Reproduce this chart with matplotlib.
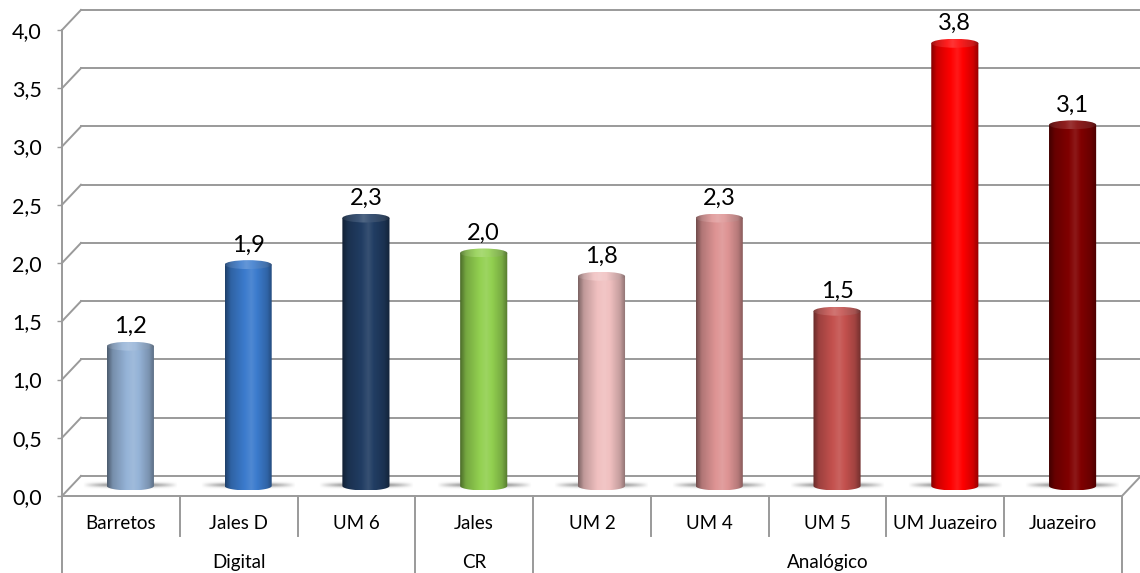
import numpy as np
import matplotlib
matplotlib.use('Agg')
import matplotlib.pyplot as plt
from matplotlib.path import Path
from matplotlib.patches import PathPatch, Ellipse
from matplotlib.colors import to_rgb

plt.rcParams['font.family'] = ['Lato', 'DejaVu Sans']

# Data
categories = ['Barretos', 'Jales D', 'UM 6', 'Jales', 'UM 2', 'UM 4', 'UM 5', 'UM Juazeiro', 'Juazeiro']
values = [1.2, 1.9, 2.3, 2.0, 1.8, 2.3, 1.5, 3.8, 3.1]
groups = ['Digital', 'CR', 'Analógico']
group_sizes = [3, 1, 5]
bar_colors = ['#95B3D7', '#3B7BCD', '#213D63', '#92D050', '#F0C0C0',
              '#DE9494', '#C4514E', '#FF0000', '#800000']
yticks = np.arange(0, 4.01, 0.5)

# 3D look: depth of the wall / floor in data units
DX = 0.161
DY = 0.172
BAR_W = 0.40
CAP_H = 0.077
GRID = '#9A9A9A'

fig = plt.figure(figsize=(11.4, 5.73), dpi=100)
ax = fig.add_axes([62 / 1140, 77 / 573, 1060 / 1140, 466 / 573])
for s in ax.spines.values():
    s.set_visible(False)


def shade(base, k):
    base = np.asarray(base)
    if k <= 1:
        return base * k
    return base + (1 - base) * (k - 1)


def gradient(color, light=0.0, n=80):
    base = to_rgb(color)
    base = np.array(base) + (1 - np.array(base)) * light
    t = np.linspace(0, 1, n)
    k = np.interp(t, [0, 0.12, 0.55, 0.88, 1], [0.52, 0.8, 1.10, 0.82, 0.58])
    return np.array([shade(base, kk) for kk in k])[np.newaxis, :, :]


def cylinder(xc, y0, h, color):
    xl, xr = xc - BAR_W / 2, xc + BAR_W / 2
    th = np.linspace(np.pi, 2 * np.pi, 60)
    bottom = np.column_stack([xc + BAR_W / 2 * np.cos(th), y0 + CAP_H / 2 * np.sin(th)])
    verts = [(xl, y0 + h)] + list(map(tuple, bottom)) + [(xr, y0 + h), (xl, y0 + h)]
    body = PathPatch(Path(verts), facecolor='none', edgecolor='none')
    ax.add_patch(body)
    im = ax.imshow(gradient(color), extent=(xl, xr, y0 - CAP_H / 2, y0 + h),
                   aspect='auto', interpolation='bilinear', zorder=3)
    im.set_clip_path(body)
    cap = Ellipse((xc, y0 + h), BAR_W, CAP_H, facecolor='none', edgecolor='none')
    ax.add_patch(cap)
    im2 = ax.imshow(gradient(color, light=0.12)[:, ::-1, :],
                    extent=(xl, xr, y0 + h - CAP_H / 2, y0 + h + CAP_H / 2),
                    aspect='auto', interpolation='bilinear', zorder=4)
    im2.set_clip_path(cap)


def floor_shadow(xc, y0):
    # soft grey shadow on the floor either side of a cylinder base
    nx, ny = 120, 20
    x = np.linspace(-1, 1, nx)
    y = np.linspace(-1, 1, ny)
    ax_prof = np.clip(1 - np.abs(x) ** 2.2, 0, 1)
    ay_prof = np.exp(-(y / 0.55) ** 2)
    alpha = 0.75 * np.outer(ay_prof, ax_prof)
    rgba = np.zeros((ny, nx, 4))
    rgba[..., :3] = 0.38
    rgba[..., 3] = alpha
    ax.imshow(rgba, extent=(xc - BAR_W / 2 - 0.2, xc + BAR_W / 2 + 0.2, y0 - 0.025, y0 + 0.04),
              aspect='auto', interpolation='bilinear', zorder=2)


n = len(categories)

# back wall gridlines and left diagonals
for yv in yticks:
    ax.plot([DX, n + DX], [yv + DY, yv + DY], color=GRID, lw=1.4, clip_on=False, zorder=1)
    ax.plot([0, DX], [yv, yv + DY], color=GRID, lw=1.4, clip_on=False, zorder=1)

# floor front edge and right side
ax.plot([0, n], [0, 0], color=GRID, lw=1.4, clip_on=False, zorder=1)
ax.plot([n, n + DX], [0, DY], color=GRID, lw=1.4, clip_on=False, zorder=1)

# value axis line, extends down as the first group divider
ax.plot([0, 0], [4.0, -0.68], color=GRID, lw=1.4, clip_on=False, zorder=1)

# category dividers and group dividers
bounds = np.cumsum([0] + group_sizes)
for i in range(1, n):
    if i in bounds:
        continue
    ax.plot([i, i], [0, -0.343], color=GRID, lw=1.4, clip_on=False, zorder=1)
for b in bounds[1:]:
    ax.plot([b, b], [0, -0.68], color=GRID, lw=1.4, clip_on=False, zorder=1)

# cylinders
for i, (v, c) in enumerate(zip(values, bar_colors)):
    xc = i + 0.5 + DX / 2
    floor_shadow(xc, DY / 2)
for i, (v, c) in enumerate(zip(values, bar_colors)):
    xc = i + 0.5 + DX / 2
    cylinder(xc, DY / 2, v, c)
    ax.annotate(f'{v:.1f}'.replace('.', ','), (xc, DY / 2 + v), xytext=(0, 14),
                textcoords='offset points', ha='center', va='center', fontsize=17,
                color='black', zorder=5)

# category and group labels
for i, cat in enumerate(categories):
    ax.text(i + 0.5, -0.232, cat, ha='center', va='center', fontsize=13.5, color='black')
for g, lo, hi in zip(groups, bounds[:-1], bounds[1:]):
    ax.text((lo + hi) / 2, -0.575, g, ha='center', va='center', fontsize=13.5, color='black')

ax.set_xlim(0, n)
ax.set_ylim(0, 4.0)
ax.set_xticks([])
ax.set_yticks(yticks)
ax.set_yticklabels([f'{t:.1f}'.replace('.', ',') for t in yticks], fontsize=15.5)
ax.tick_params(axis='y', length=3.6, width=1.0, color=GRID, pad=11)

fig.savefig('out.png', dpi=100, facecolor='white')
